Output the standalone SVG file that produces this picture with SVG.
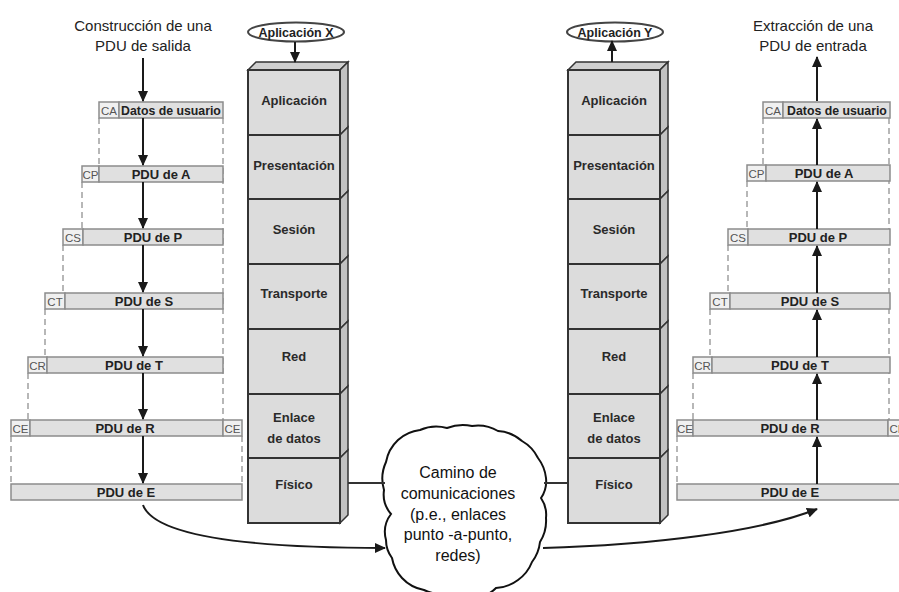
<svg xmlns="http://www.w3.org/2000/svg" width="899" height="592" viewBox="0 0 899 592">
<defs>
<marker id="ah" markerUnits="userSpaceOnUse" markerWidth="11" markerHeight="10" refX="10" refY="5" orient="auto">
<path d="M0,0 L11,5 L0,10 z" fill="#1a1a1a"/>
</marker>
<style>
text{font-family:"Liberation Sans",Arial,sans-serif}
.hdr{font-size:15px;fill:#222;text-anchor:middle}
.lay{font-size:13px;font-weight:bold;fill:#2a2a2a;text-anchor:middle}
.pdu{font-size:13px;font-weight:bold;fill:#222;text-anchor:middle}
.du{font-size:12.3px}
.cell{font-size:11.5px;fill:#555;text-anchor:middle}
.cld{font-size:16px;fill:#111;text-anchor:middle}
.app{font-size:12.5px;font-weight:bold;fill:#222;text-anchor:middle}
.box{fill:#e0e0e0;stroke:#8c8c8c;stroke-width:1.5}
.hc{fill:#f0f0f0;stroke:#8c8c8c;stroke-width:1.5}
.dash{stroke:#a0a0a0;stroke-width:1.5;stroke-dasharray:6 4;fill:none}
.arr{stroke:#1a1a1a;stroke-width:2;fill:none;marker-end:url(#ah)}
.fr{fill:#dcdcdc;stroke:#333;stroke-width:2}
.sd{fill:#c2c2c2;stroke:#333;stroke-width:1.5}
.tp{fill:#cfcfcf;stroke:#333;stroke-width:1.5}
.ell{fill:#fff;stroke:#444;stroke-width:2}
.ln{stroke:#333;stroke-width:2;fill:none}
</style>
</defs>

<!-- headers -->
<g id="hdr-left"><text class="hdr" x="143" y="31">Construcción de una</text><text class="hdr" x="143" y="51">PDU de salida</text></g>
<g id="hdr-right"><text class="hdr" x="813" y="31">Extracción de una</text><text class="hdr" x="813" y="51">PDU de entrada</text></g>

<!-- dashed guides left -->
<g id="guides-left">
<line class="dash" x1="99" y1="118" x2="99" y2="166"/>
<line class="dash" x1="82" y1="182" x2="82" y2="229"/>
<line class="dash" x1="63" y1="245" x2="63" y2="293"/>
<line class="dash" x1="45" y1="309" x2="45" y2="357"/>
<line class="dash" x1="28" y1="373" x2="28" y2="420"/>
<line class="dash" x1="11" y1="436" x2="11" y2="484"/>
<line class="dash" x1="223" y1="118" x2="223" y2="420"/>
<line class="dash" x1="242" y1="436" x2="242" y2="484"/>
</g>
<!-- dashed guides right -->
<g id="guides-right">
<line class="dash" x1="763" y1="118" x2="763" y2="165"/>
<line class="dash" x1="747" y1="181" x2="747" y2="229"/>
<line class="dash" x1="728" y1="245" x2="728" y2="293"/>
<line class="dash" x1="710" y1="309" x2="710" y2="357"/>
<line class="dash" x1="693" y1="373" x2="693" y2="420"/>
<line class="dash" x1="677" y1="436" x2="677" y2="484"/>
<line class="dash" x1="889" y1="118" x2="889" y2="420"/>
</g>

<!-- left PDU column -->
<g id="l-ca"><rect class="hc" x="99" y="102" width="20" height="16"/><rect class="box" x="119" y="102" width="104" height="16"/><text class="cell" x="109" y="114.5">CA</text><text class="pdu du" x="171" y="114.5">Datos de usuario</text></g>
<g id="l-pa"><rect class="hc" x="82" y="166" width="17" height="16"/><rect class="box" x="99" y="166" width="124" height="16"/><text class="cell" x="90.5" y="178.5">CP</text><text class="pdu" x="161" y="178.5">PDU de A</text></g>
<g id="l-pp"><rect class="hc" x="63" y="229" width="20" height="16"/><rect class="box" x="83" y="229" width="140" height="16"/><text class="cell" x="73" y="241.5">CS</text><text class="pdu" x="153" y="241.5">PDU de P</text></g>
<g id="l-ps"><rect class="hc" x="45" y="293" width="20" height="16"/><rect class="box" x="65" y="293" width="158" height="16"/><text class="cell" x="55" y="305.5">CT</text><text class="pdu" x="144" y="305.5">PDU de S</text></g>
<g id="l-pt"><rect class="hc" x="28" y="357" width="19" height="16"/><rect class="box" x="47" y="357" width="176" height="16"/><text class="cell" x="37.5" y="369.5">CR</text><text class="pdu" x="134" y="369.5">PDU de T</text></g>
<g id="l-pr"><rect class="hc" x="11" y="420" width="19" height="16"/><rect class="box" x="30" y="420" width="193" height="16"/><rect class="hc" x="223" y="420" width="19" height="16"/><text class="cell" x="20.5" y="432.5">CE</text><text class="pdu" x="125" y="432.5">PDU de R</text><text class="cell" x="232.5" y="432.5">CE</text></g>
<g id="l-pe"><rect class="box" x="11" y="484" width="231" height="16"/><text class="pdu" x="126" y="496.5">PDU de E</text></g>

<!-- right PDU column -->
<g id="r-ca"><rect class="hc" x="763" y="102" width="20" height="16"/><rect class="box" x="783" y="102" width="107" height="16"/><text class="cell" x="773" y="114.5">CA</text><text class="pdu du" x="837" y="114.5">Datos de usuario</text></g>
<g id="r-pa"><rect class="hc" x="747" y="165" width="19" height="16"/><rect class="box" x="766" y="165" width="124" height="16"/><text class="cell" x="756.5" y="177.5">CP</text><text class="pdu" x="824" y="177.5">PDU de A</text></g>
<g id="r-pp"><rect class="hc" x="728" y="229" width="20" height="16"/><rect class="box" x="748" y="229" width="142" height="16"/><text class="cell" x="738" y="241.5">CS</text><text class="pdu" x="818" y="241.5">PDU de P</text></g>
<g id="r-ps"><rect class="hc" x="710" y="293" width="20" height="16"/><rect class="box" x="730" y="293" width="160" height="16"/><text class="cell" x="720" y="305.5">CT</text><text class="pdu" x="810" y="305.5">PDU de S</text></g>
<g id="r-pt"><rect class="hc" x="693" y="357" width="19" height="16"/><rect class="box" x="712" y="357" width="178" height="16"/><text class="cell" x="702.5" y="369.5">CR</text><text class="pdu" x="800" y="369.5">PDU de T</text></g>
<g id="r-pr"><rect class="hc" x="677" y="420" width="16" height="16"/><rect class="box" x="693" y="420" width="195" height="16"/><rect class="hc" x="888" y="420" width="19" height="16"/><text class="cell" x="685" y="432.5">CE</text><text class="pdu" x="790" y="432.5">PDU de R</text><text class="cell" x="897.5" y="432.5">CE</text></g>
<g id="r-pe"><rect class="box" x="677" y="484" width="230" height="16"/><text class="pdu" x="790" y="496.5">PDU de E</text></g>

<!-- left stack -->
<g id="stack-x">
<polygon class="tp" points="248,70 256,62 348,62 340,70"/>
<polygon class="sd" points="340,70 348,62 348,127 340,135"/>
<polygon class="sd" points="340,135 348,127 348,191 340,199"/>
<polygon class="sd" points="340,199 348,191 348,256 340,264"/>
<polygon class="sd" points="340,264 348,256 348,321 340,329"/>
<polygon class="sd" points="340,329 348,321 348,386 340,394"/>
<polygon class="sd" points="340,394 348,386 348,450 340,458"/>
<polygon class="sd" points="340,458 348,450 348,515 340,523"/>
<rect class="fr" x="248" y="70" width="92" height="65"/>
<rect class="fr" x="248" y="135" width="92" height="64"/>
<rect class="fr" x="248" y="199" width="92" height="65"/>
<rect class="fr" x="248" y="264" width="92" height="65"/>
<rect class="fr" x="248" y="329" width="92" height="65"/>
<rect class="fr" x="248" y="394" width="92" height="64"/>
<rect class="fr" x="248" y="458" width="92" height="65"/>
<text class="lay" x="294" y="105">Aplicación</text>
<text class="lay" x="294" y="170">Presentación</text>
<text class="lay" x="294" y="234">Sesión</text>
<text class="lay" x="294" y="298">Transporte</text>
<text class="lay" x="294" y="361">Red</text>
<text class="lay" x="294" y="422">Enlace</text>
<text class="lay" x="294" y="443">de datos</text>
<text class="lay" x="294" y="489">Físico</text>
</g>
<g id="app-x"><ellipse class="ell" cx="296" cy="32" rx="48" ry="9.5"/><text class="app" x="296" y="36.5">Aplicación X</text></g>

<!-- right stack -->
<g id="stack-y">
<polygon class="tp" points="568,70 576,62 668,62 660,70"/>
<polygon class="sd" points="660,70 668,62 668,127 660,135"/>
<polygon class="sd" points="660,135 668,127 668,191 660,199"/>
<polygon class="sd" points="660,199 668,191 668,256 660,264"/>
<polygon class="sd" points="660,264 668,256 668,321 660,329"/>
<polygon class="sd" points="660,329 668,321 668,386 660,394"/>
<polygon class="sd" points="660,394 668,386 668,450 660,458"/>
<polygon class="sd" points="660,458 668,450 668,515 660,523"/>
<rect class="fr" x="568" y="70" width="92" height="65"/>
<rect class="fr" x="568" y="135" width="92" height="64"/>
<rect class="fr" x="568" y="199" width="92" height="65"/>
<rect class="fr" x="568" y="264" width="92" height="65"/>
<rect class="fr" x="568" y="329" width="92" height="65"/>
<rect class="fr" x="568" y="394" width="92" height="64"/>
<rect class="fr" x="568" y="458" width="92" height="65"/>
<text class="lay" x="614" y="105">Aplicación</text>
<text class="lay" x="614" y="170">Presentación</text>
<text class="lay" x="614" y="234">Sesión</text>
<text class="lay" x="614" y="298">Transporte</text>
<text class="lay" x="614" y="361">Red</text>
<text class="lay" x="614" y="422">Enlace</text>
<text class="lay" x="614" y="443">de datos</text>
<text class="lay" x="614" y="489">Físico</text>
</g>
<g id="app-y"><ellipse class="ell" cx="615" cy="32" rx="48" ry="9.5"/><text class="app" x="615" y="36.5">Aplicación Y</text></g>

<!-- cloud -->
<g id="cloud">
<path d="M386,462 A40 40 0 0 1 398,440 A40 40 0 0 1 420,430 A40 40 0 0 1 447,428 A45 45 0 0 1 472,426 A40 40 0 0 1 498,431 A40 40 0 0 1 522,441 A40 40 0 0 1 538,458 A40 40 0 0 1 546,478 A30 30 0 0 1 541,498 A30 30 0 0 1 546,518 A40 40 0 0 1 540,542 A40 40 0 0 1 532,562 A40 40 0 0 1 518,580 A40 40 0 0 1 496,588 A30 30 0 0 1 474,597 A30 30 0 0 1 450,593 A40 40 0 0 1 424,590 A40 40 0 0 1 402,578 A40 40 0 0 1 392,558 A30 30 0 0 1 386,540 A30 30 0 0 1 391,514 A30 30 0 0 1 384,490 A40 40 0 0 1 386,462 Z" fill="#fff" stroke="#111" stroke-width="2"/>
<text class="cld" x="458" y="478">Camino de</text>
<text class="cld" x="458" y="499">comunicaciones</text>
<text class="cld" x="458" y="520">(p.e., enlaces</text>
<text class="cld" x="458" y="540">punto -a-punto,</text>
<text class="cld" x="458" y="561">redes)</text>
</g>

<!-- connectors -->
<g id="connectors">
<line class="arr" x1="143" y1="58" x2="143" y2="101"/>
<line class="arr" x1="143" y1="118" x2="143" y2="165"/>
<line class="arr" x1="143" y1="182" x2="143" y2="228"/>
<line class="arr" x1="143" y1="245" x2="143" y2="292"/>
<line class="arr" x1="143" y1="309" x2="143" y2="356"/>
<line class="arr" x1="143" y1="373" x2="143" y2="419"/>
<line class="arr" x1="143" y1="436" x2="143" y2="483"/>
<line class="arr" x1="817" y1="101" x2="817" y2="57"/>
<line class="arr" x1="817" y1="165" x2="817" y2="119"/>
<line class="arr" x1="817" y1="229" x2="817" y2="182"/>
<line class="arr" x1="817" y1="293" x2="817" y2="246"/>
<line class="arr" x1="817" y1="357" x2="817" y2="310"/>
<line class="arr" x1="817" y1="420" x2="817" y2="374"/>
<line class="arr" x1="817" y1="484" x2="817" y2="437"/>
<line class="arr" x1="295" y1="42" x2="295" y2="62"/>
<line class="arr" x1="612" y1="62" x2="612" y2="41"/>
<line class="ln" x1="348" y1="483" x2="385" y2="483"/>
<line class="ln" x1="544" y1="483" x2="568" y2="483"/>
<path class="arr" d="M143,505 C155,538 260,548 385,548"/>
<path class="arr" d="M543,548 C650,545 760,532 817,509"/>
</g>
</svg>
